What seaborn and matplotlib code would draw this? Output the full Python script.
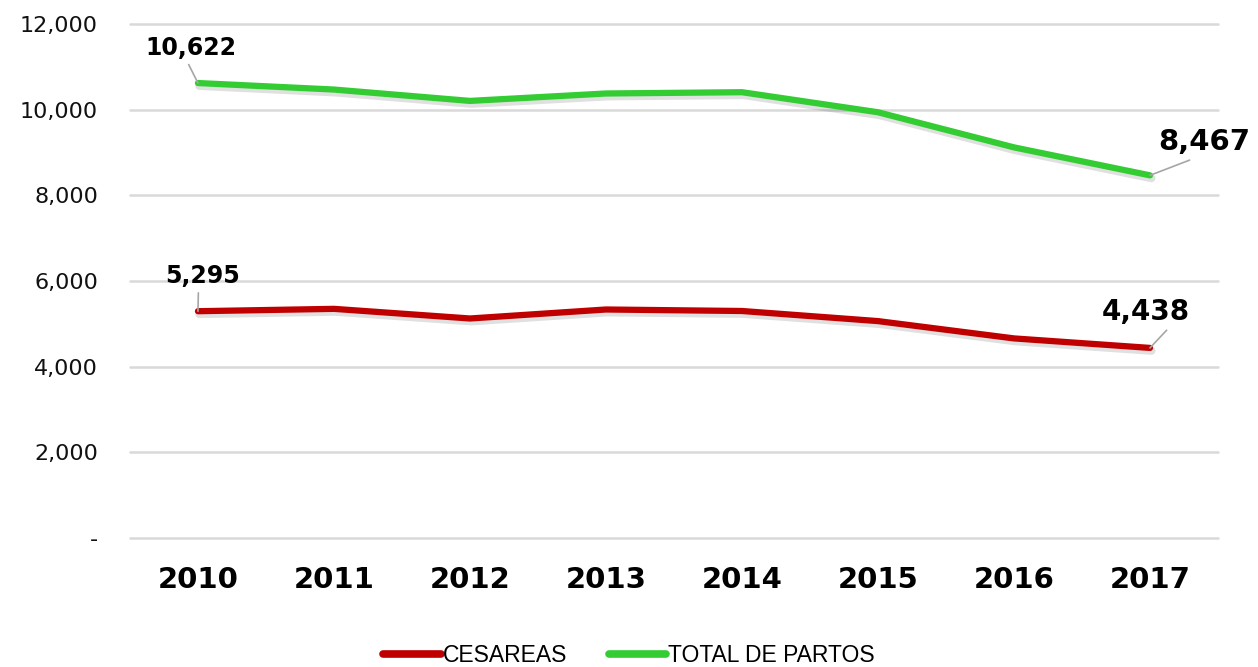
import pandas as pd
import matplotlib
matplotlib.use("Agg")
import matplotlib.pyplot as plt
import matplotlib.patheffects as pe
from matplotlib.lines import Line2D
from matplotlib.ticker import FuncFormatter
import seaborn as sns

# data
years = ["2010", "2011", "2012", "2013", "2014", "2015", "2016", "2017"]
cesareas = [5295, 5350, 5125, 5335, 5300, 5064, 4660, 4438]
total_partos = [10622, 10470, 10205, 10378, 10408, 9940, 9120, 8467]
series_names = ["CESAREAS", "TOTAL DE PARTOS"]
colors = ["#c00000", "#33cc33"]

df = pd.DataFrame({
    "year": years * 2,
    "value": cesareas + total_partos,
    "serie": [series_names[0]] * len(years) + [series_names[1]] * len(years),
})

sns.set_theme(style="white")
plt.rcParams["font.family"] = ["DejaVu Sans"]

fig = plt.figure(figsize=(12.58, 6.67), dpi=100)
ax = fig.add_axes([0.1033, 0.1934, 0.8649, 0.7706])

# soft drop shadow under the lines
shadow = [pe.SimpleLineShadow(offset=(1, -2), alpha=0.12, shadow_color="black", linewidth=6), pe.Normal()]
sns.lineplot(data=df, x="year", y="value", hue="serie", palette=colors,
             linewidth=4.5, ax=ax, legend=False, sort=False)
for line in ax.get_lines():
    line.set_path_effects(shadow)
    line.set_solid_capstyle("round")
    line.set_solid_joinstyle("round")

ax.set_xlim(-0.5, len(years) - 0.5)
ax.set_ylim(0, 12000)
ax.set_yticks(range(0, 12001, 2000))
ax.yaxis.set_major_formatter(FuncFormatter(lambda v, p: "-" if v == 0 else f"{int(v):,}"))
ax.grid(axis="y", color="#d9d9d9", linewidth=1.8)
for gl in ax.get_ygridlines():
    gl.set_clip_on(False)
ax.set_axisbelow(True)
for s in ax.spines.values():
    s.set_visible(False)
ax.set_xlabel("")
ax.set_ylabel("")
ax.tick_params(axis="y", labelsize=16, pad=23, length=0, labelcolor="#111111")
ax.tick_params(axis="x", labelsize=21, pad=20, length=0, labelcolor="black")
for lab in ax.get_xticklabels():
    lab.set_fontweight("bold")

# data labels with leader lines
labels = [
    (0, total_partos[0], 17, (-7, 35), (0.45, 0)),
    (0, cesareas[0], 17, (5, 35), (0.44, 0)),
    (7, total_partos[7], 21, (54, 33), (0.45, 0)),
    (7, cesareas[7], 20, (-4, 36), (0.78, 0)),
]
for xi, val, fs, off, rp in labels:
    ax.annotate(f"{val:,}", xy=(xi, val), xytext=off, textcoords="offset pixels",
                ha="center", va="center", fontsize=fs, fontweight="bold", color="black",
                annotation_clip=False,
                arrowprops=dict(arrowstyle="-", color="#a6a6a6", lw=1.2,
                                shrinkA=1, shrinkB=0, relpos=rp))

handles = [Line2D([0], [0], color=c, lw=5.5, solid_capstyle="round") for c in colors]
fig.legend(handles, series_names, loc="center", bbox_to_anchor=(0.5, 1 - 656 / 667),
           ncol=2, frameon=False, handlelength=2.5, handletextpad=0.1,
           columnspacing=1.8, labelcolor="black",
           prop={"family": "Liberation Sans", "size": 16.5})

fig.savefig("out.png", dpi=100)
